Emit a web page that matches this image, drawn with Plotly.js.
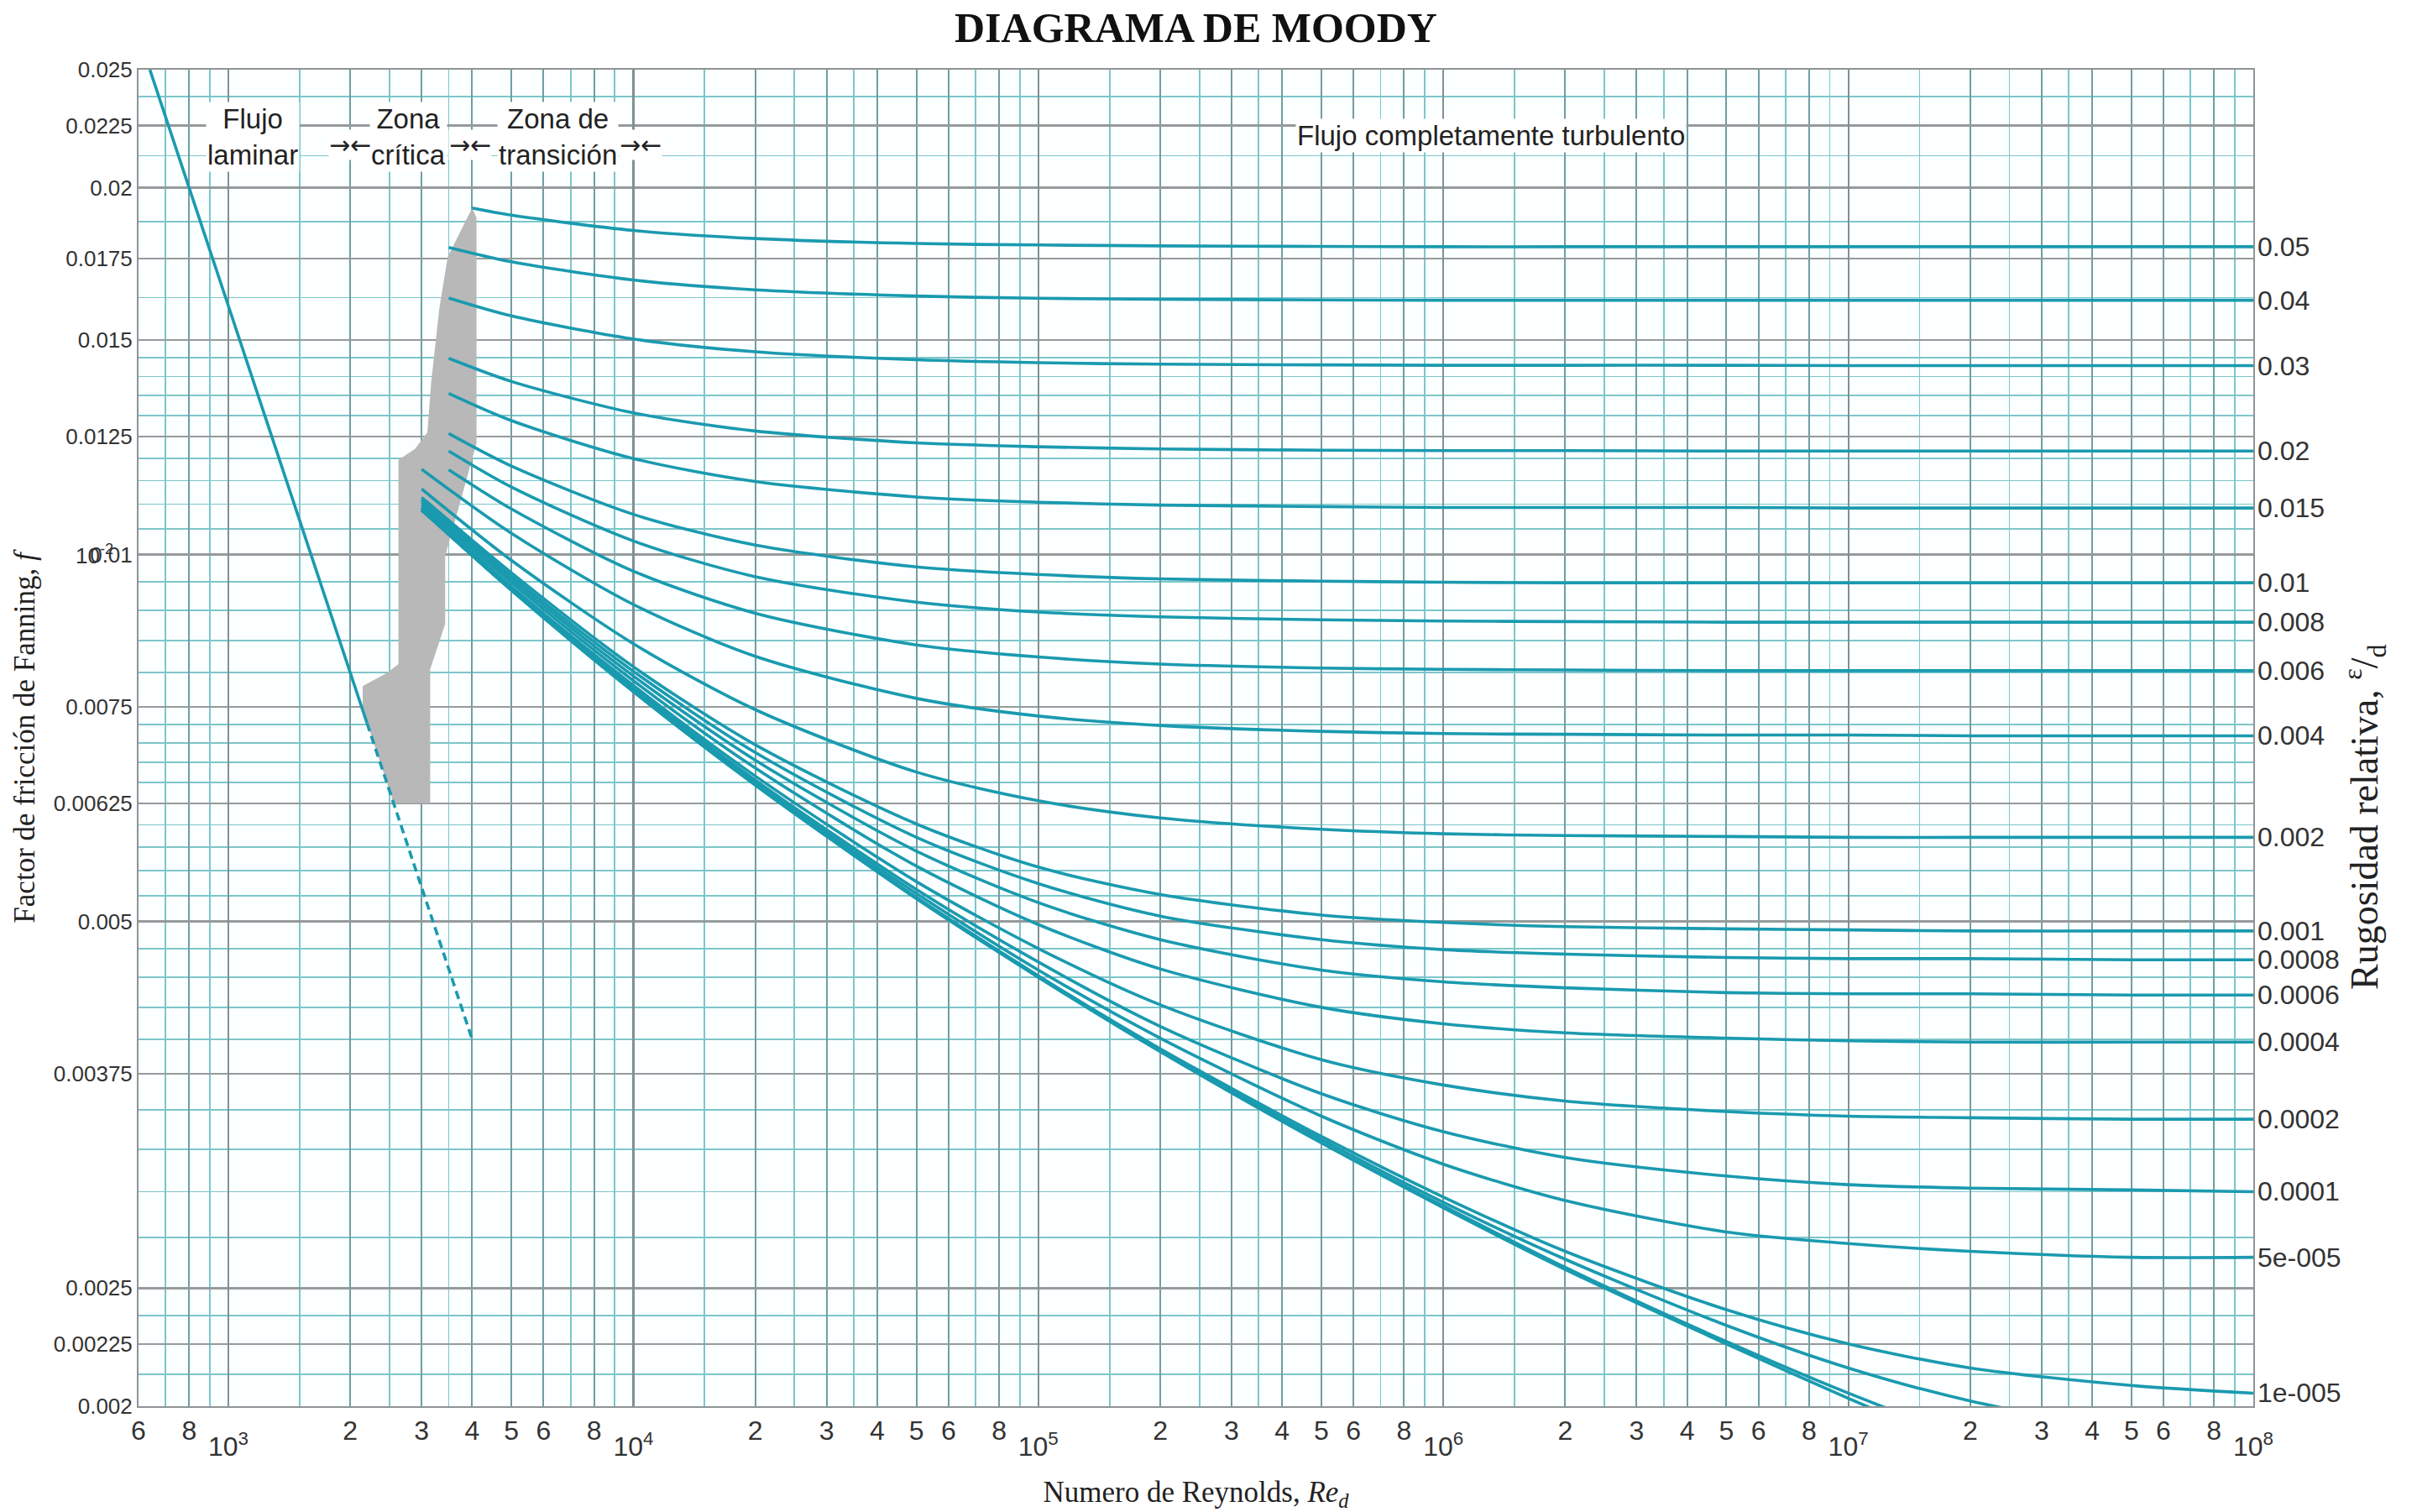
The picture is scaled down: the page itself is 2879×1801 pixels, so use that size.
<!DOCTYPE html>
<html>
<head>
<meta charset="utf-8">
<script src="https://cdn.plot.ly/plotly-3.0.1.min.js"></script>
<style>
html,body{margin:0;padding:0;background:#ffffff;}
#chart{width:2879px;height:1801px;}
</style>
</head>
<body>
<div id="chart"></div>
<script>
// ---------------- DATA ----------------
const chartTitle = 'DIAGRAMA DE MOODY';

// Reynolds numbers shared by every turbulent curve after its starting point
const reTail = [5e3, 1e4, 2e4, 5e4, 1e5, 2e5, 5e5, 1e6, 2e6, 5e6, 1e7, 2e7, 5e7, 1e8];

// relative roughness labels (right side) and starting Reynolds number of each curve
const roughLabels = ['0.05','0.04','0.03','0.02','0.015','0.01','0.008','0.006','0.004','0.002',
                     '0.001','0.0008','0.0006','0.0004','0.0002','0.0001','5e-005','1e-005','','',''];
const reStart = [4000,3500,3500,3500,3500,3500,3500,3500,3000,3000,3000,3000,3000,3000,3000,3000,3000,3000,3000,3000,3000];

// Fanning friction factor of each curve: value at start, then at each reTail value
const f_005    = [0.01925,0.01899,0.01845,0.01817,0.01800,0.01795,0.01792,0.01790,0.01789,0.01789,0.01789,0.01789,0.01789,0.01789,0.01789];
const f_004    = [0.01787,0.01739,0.01680,0.01649,0.01630,0.01623,0.01620,0.01618,0.01617,0.01617,0.01617,0.01617,0.01617,0.01617,0.01617];
const f_003    = [0.01624,0.01570,0.01503,0.01467,0.01445,0.01437,0.01433,0.01431,0.01430,0.01430,0.01430,0.01429,0.01429,0.01429,0.01429];
const f_002    = [0.01449,0.01387,0.01307,0.01263,0.01235,0.01226,0.01221,0.01218,0.01217,0.01217,0.01216,0.01216,0.01216,0.01216,0.01216];
const f_0015   = [0.01356,0.01288,0.01199,0.01148,0.01115,0.01104,0.01098,0.01095,0.01093,0.01093,0.01093,0.01092,0.01092,0.01092,0.01092];
const f_001    = [0.01257,0.01182,0.01079,0.01018,0.00977,0.00963,0.00955,0.00951,0.00949,0.00948,0.00948,0.00948,0.00948,0.00948,0.00948];
const f_0008   = [0.01216,0.01136,0.01026,0.00959,0.00914,0.00897,0.00889,0.00884,0.00882,0.00881,0.00880,0.00880,0.00880,0.00880,0.00880];
const f_0006   = [0.01174,0.01090,0.00969,0.00895,0.00843,0.00824,0.00813,0.00807,0.00805,0.00804,0.00803,0.00803,0.00803,0.00803,0.00803];
const f_0004   = [0.01175,0.01041,0.00910,0.00825,0.00762,0.00737,0.00724,0.00716,0.00713,0.00712,0.00711,0.00711,0.00710,0.00710,0.00710];
const f_0002   = [0.01132,0.00989,0.00845,0.00746,0.00663,0.00628,0.00608,0.00595,0.00590,0.00588,0.00587,0.00586,0.00586,0.00586,0.00586];
const f_0001   = [0.01114,0.00966,0.00809,0.00698,0.00601,0.00554,0.00526,0.00506,0.00499,0.00495,0.00493,0.00492,0.00491,0.00491,0.00491];
const f_00008  = [0.01109,0.00960,0.00802,0.00688,0.00586,0.00537,0.00505,0.00483,0.00474,0.00470,0.00467,0.00466,0.00466,0.00465,0.00465];
const f_00006  = [0.01104,0.00954,0.00795,0.00678,0.00571,0.00518,0.00483,0.00456,0.00446,0.00441,0.00437,0.00436,0.00436,0.00435,0.00435];
const f_00004  = [0.01099,0.00948,0.00788,0.00668,0.00555,0.00497,0.00457,0.00425,0.00412,0.00405,0.00401,0.00399,0.00398,0.00398,0.00398];
const f_00002  = [0.01093,0.00941,0.00781,0.00658,0.00539,0.00475,0.00427,0.00385,0.00367,0.00356,0.00349,0.00346,0.00345,0.00344,0.00344];
const f_00001  = [0.01091,0.00938,0.00777,0.00653,0.00531,0.00463,0.00410,0.00361,0.00336,0.00320,0.00309,0.00304,0.00302,0.00301,0.00300];
const f_5em5   = [0.01089,0.00936,0.00774,0.00650,0.00527,0.00456,0.00401,0.00346,0.00316,0.00295,0.00278,0.00272,0.00268,0.00265,0.00265];
const f_1em5   = [0.01088,0.00935,0.00773,0.00648,0.00523,0.00451,0.00393,0.00333,0.00297,0.00268,0.00240,0.00225,0.00215,0.00208,0.00205];
const f_5em6   = [0.01088,0.00935,0.00772,0.00648,0.00523,0.00451,0.00392,0.00331,0.00294,0.00264,0.00233,0.00215,0.00202,0.00191,0.00187];
const f_1em6   = [0.01088,0.00935,0.00772,0.00647,0.00522,0.00450,0.00391,0.00329,0.00292,0.00260,0.00226,0.00205,0.00188,0.00170,0.00161];
const f_smooth = [0.01088,0.00935,0.00772,0.00647,0.00522,0.00450,0.00391,0.00329,0.00291,0.00259,0.00225,0.00203,0.00184,0.00162,0.00149];

const curveList = [f_005,f_004,f_003,f_002,f_0015,f_001,f_0008,f_0006,f_0004,f_0002,
                   f_0001,f_00008,f_00006,f_00004,f_00002,f_00001,f_5em5,f_1em5,f_5em6,f_1em6,f_smooth];

// laminar flow line (solid part and dashed extension)
const lamRe = [640, 2200];
const lamF  = [0.025, 0.00727];
const lamDashRe = [2200, 4000];
const lamDashF  = [0.00727, 0.004];

// critical zone (grey region) outline
const critRe = [2560,3150,3150,3430,3430,4100,4100,4000,3480,3320,3170,3100,2890,2630,2630,2470,2146,2146,2560];
const critF  = [0.00625,0.00625,0.00805,0.00877,0.00997,0.01234,0.0189,0.01925,0.01755,0.01594,0.01388,0.0126,0.01221,0.01196,0.00813,0.0080,0.0078,0.00746,0.00625];

// axis ticks
const xPre = [600, 800];
const xPreText = ['6', '8'];
const xDigitMult = [2, 3, 4, 5, 6, 8];
const xDigitDecades = [1e3, 1e4, 1e5, 1e6, 1e7];
const xMinorMult = [1.5, 2.5, 3.5, 7, 9];
const xMinorDecades = [1e2, 1e3, 1e4, 1e5, 1e6, 1e7];
const xDecadeExp = [3, 4, 5, 6, 7, 8];

const yTickVals = [0.002,0.00225,0.0025,0.00375,0.005,0.00625,0.0075,0.01,0.0125,0.015,0.0175,0.02,0.0225,0.025];
const yTickText = ['0.002','0.00225','0.0025','0.00375','0.005','0.00625','0.0075','0.01','0.0125','0.015','0.0175','0.02','0.0225','0.025'];
const yMinorVals = [0.002125,0.002375,0.00275,0.003,0.00325,0.0035,0.004,0.00425,0.0045,0.00475,
                    0.00525,0.0055,0.00575,0.006,0.0065,0.00675,0.007,0.00725,0.008,0.0085,0.009,0.0095,
                    0.0105,0.011,0.0115,0.012,0.013,0.0135,0.014,0.0145,0.01625,0.01875,0.02125,0.02375];

// region annotations
const zoneTexts = ['Flujo<br>laminar', 'Zona<br>crítica', 'Zona de<br>transición', 'Flujo completamente turbulento'];
const zoneRe    = [1150, 2780, 6500, 1.31e6];
const zoneF     = [0.02202, 0.02202, 0.02202, 0.02207];
const arrowRe   = [2000, 3950, 10400];
const arrowF    = [0.02170, 0.02170, 0.02170];

// ---------------- BUILD ----------------
const LOG = Math.log10;
const curveColor = '#1a9aaf';

const xTickVals = xPre.slice(), xTickText = xPreText.slice();
xDigitDecades.forEach(d => xDigitMult.forEach(m => { xTickVals.push(m * d); xTickText.push(String(m)); }));
const xMinorVals = [];
xMinorDecades.forEach(d => xMinorMult.forEach(m => xMinorVals.push(m * d)));
const xDecVals = xDecadeExp.map(e => Math.pow(10, e));
const xDecText = xDecadeExp.map(e => '10<sup>' + e + '</sup>');

const traces = [];
traces.push({
  x: critRe, y: critF, type: 'scatter', mode: 'lines', fill: 'toself',
  fillcolor: '#b8b8b8', line: {width: 0, color: '#b8b8b8'}, hoverinfo: 'skip', showlegend: false
});
curveList.forEach((fv, i) => {
  traces.push({
    x: [reStart[i]].concat(reTail), y: fv, type: 'scatter', mode: 'lines',
    line: {color: curveColor, width: 3.6, shape: 'spline', smoothing: 0.8},
    hoverinfo: 'skip', showlegend: false
  });
});
traces.push({
  x: lamRe, y: lamF, xaxis: 'x2', yaxis: 'y', type: 'scatter', mode: 'lines',
  line: {color: curveColor, width: 3.6}, hoverinfo: 'skip', showlegend: false
});
traces.push({
  x: lamDashRe, y: lamDashF, xaxis: 'x2', yaxis: 'y', type: 'scatter', mode: 'lines',
  line: {color: curveColor, width: 3.6, dash: '10px,6px'}, hoverinfo: 'skip', showlegend: false
});

const annotations = [];
curveList.forEach((fv, i) => {
  if (!roughLabels[i]) return;
  annotations.push({
    xref: 'paper', x: 1, xanchor: 'left', xshift: 3,
    yref: 'y', y: LOG(fv[fv.length - 1]), yanchor: 'middle',
    text: roughLabels[i], showarrow: false,
    font: {family: 'Liberation Sans, Arial', size: 32, color: '#333333'}
  });
});
zoneTexts.forEach((t, i) => {
  annotations.push({
    xref: 'x', x: LOG(zoneRe[i]), yref: 'y', y: LOG(zoneF[i]),
    text: t, showarrow: false, bgcolor: '#ffffff', borderpad: 1,
    font: {family: 'Liberation Sans, Arial', size: 33, color: '#222222'}
  });
});
arrowRe.forEach((r, i) => {
  annotations.push({
    xref: 'x', x: LOG(r), yref: 'y', y: LOG(arrowF[i]),
    text: '→←', showarrow: false, bgcolor: '#ffffff', borderpad: 0,
    font: {family: 'DejaVu Sans', size: 30, color: '#222222'}
  });
});
annotations.push({
  xref: 'paper', x: -0.0306, xanchor: 'left', yref: 'y', y: LOG(0.01), yanchor: 'middle',
  text: '10<sup>-2</sup>', showarrow: false,
  font: {family: 'Liberation Sans, Arial', size: 26, color: '#333333'}
});
annotations.push({
  xref: 'paper', x: 1.0665, yref: 'paper', y: 0.441, textangle: -90,
  text: 'Rugosidad relativa, <sup>ε</sup>/<sub>d</sub>', showarrow: false,
  font: {family: 'Liberation Serif', size: 46, color: '#222222'}
});

const tickFontX = {family: 'Liberation Sans, Arial', size: 32, color: '#333333'};

const layout = {
  width: 2879, height: 1801,
  margin: {l: 165, r: 195, t: 83, b: 126, autoexpand: false},
  paper_bgcolor: '#ffffff', plot_bgcolor: '#fcffff',
  showlegend: false,
  title: {
    text: '<b>' + chartTitle + '</b>', xref: 'paper', x: 0.5, xanchor: 'center',
    yref: 'container', y: 0.982, yanchor: 'middle',
    font: {family: 'Liberation Serif', size: 50, color: '#111111'}
  },
  xaxis: {
    type: 'log', range: [LOG(600), 8], autorange: false,
    tickmode: 'array', tickvals: xTickVals, ticktext: xTickText, ticks: '',
    tickfont: tickFontX, showgrid: true, gridcolor: '#6f9ea2', gridwidth: 2,
    minor: {tickmode: 'array', tickvals: xMinorVals, showgrid: true, gridcolor: '#7cc6cb', gridwidth: 1.8, ticks: ''},
    showline: true, mirror: true, linecolor: '#8e9494', linewidth: 2, zeroline: false,
    automargin: false,
    title: {text: 'Numero de Reynolds, <i>Re</i><sub><i>d</i></sub>', standoff: 48,
            font: {family: 'Liberation Serif', size: 35, color: '#222222'}}
  },
  xaxis2: {
    type: 'log', range: [LOG(600), 8], autorange: false, overlaying: 'x', side: 'bottom', anchor: 'y',
    tickmode: 'array', tickvals: xDecVals, ticktext: xDecText, ticks: '', ticklabelstandoff: 26,
    tickfont: tickFontX, showgrid: true, gridcolor: '#7f9193', gridwidth: 2.2,
    showline: false, zeroline: false, automargin: false
  },
  yaxis: {
    type: 'log', range: [LOG(0.002), LOG(0.025)], autorange: false,
    tickmode: 'array', tickvals: yTickVals, ticktext: yTickText, ticks: '',
    tickfont: {family: 'Liberation Sans, Arial', size: 26, color: '#333333'},
    showgrid: true, gridcolor: '#959a9a', gridwidth: 2.4,
    minor: {tickmode: 'array', tickvals: yMinorVals, showgrid: true, gridcolor: '#7cc6cb', gridwidth: 1.8, ticks: ''},
    showline: true, mirror: true, linecolor: '#8e9494', linewidth: 2, zeroline: false,
    automargin: false,
    title: {text: 'Factor de fricción de Fanning, <i>f</i>', standoff: 12,
            font: {family: 'Liberation Serif', size: 35, color: '#222222'}}
  },
  annotations: annotations
};

Plotly.newPlot('chart', traces, layout, {displayModeBar: false, staticPlot: true});
</script>
</body>
</html>
